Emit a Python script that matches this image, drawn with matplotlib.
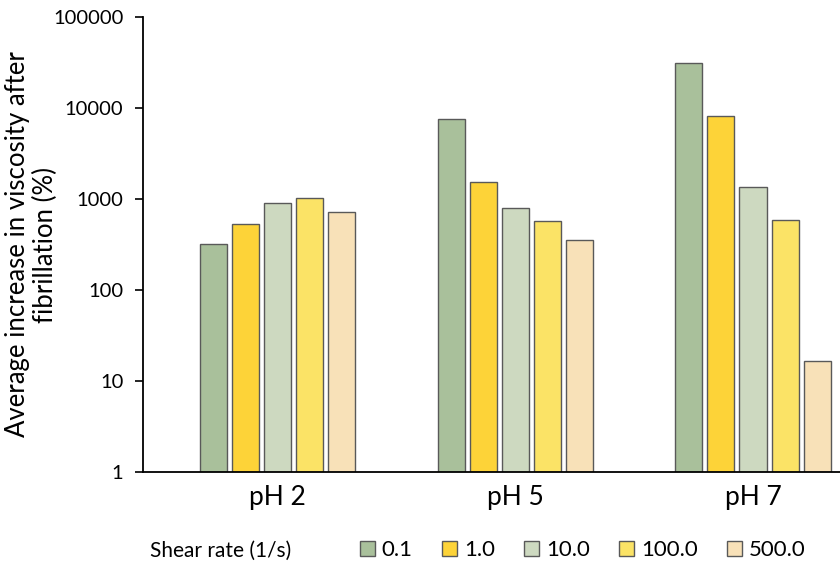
import matplotlib
matplotlib.use("Agg")
import matplotlib.pyplot as plt
import numpy as np
from matplotlib.ticker import FixedLocator, NullLocator

plt.rcParams['font.family'] = ['Lato', 'DejaVu Sans']

groups = ['pH 2', 'pH 5', 'pH 7']
rates = ['0.1', '1.0', '10.0', '100.0', '500.0']
v01 = [320, 7570, 31500]
v1 = [530, 1540, 8230]
v10 = [900, 800, 1365]
v100 = [1030, 573, 588]
v500 = [720, 354, 15.6]
series = [v01, v1, v10, v100, v500]
colors = ['#A9C09B', '#FDD338', '#CDD9C0', '#FBE366', '#F8E1B8']

fig = plt.figure(figsize=(8.4, 5.68), dpi=100)
ax = fig.add_axes([0.170, 0.169, 0.830, 0.801])

x = np.arange(len(groups))
pitch = 0.135
w = 0.114
for i, vals in enumerate(series):
    ax.bar(x + (i - 2) * pitch, vals, width=w, bottom=1, color=colors[i],
           edgecolor='#595959', linewidth=1.0, label=rates[i], zorder=2)

ax.set_yscale('log')
ax.set_ylim(1, 100000)
ax.set_xlim(-0.568, 2.366)
ax.yaxis.set_major_locator(FixedLocator([1, 10, 100, 1000, 10000, 100000]))
ax.yaxis.set_minor_locator(NullLocator())
ax.set_yticklabels(['1', '10', '100', '1000', '10000', '100000'])
ax.set_xticks(x)
ax.set_xticklabels(groups, fontsize=19)
ax.tick_params(axis='x', length=0, pad=9)
ax.tick_params(axis='y', length=6, width=1.2, labelsize=14.5, pad=8, direction='out')
for s in ['top', 'right']:
    ax.spines[s].set_visible(False)
ax.spines['left'].set_linewidth(1.3)
ax.spines['bottom'].set_linewidth(1.3)
ax.set_ylabel('Average increase in viscosity after\nfibrillation (%)', fontsize=18.5,
              linespacing=1.12, multialignment='center')
ax.yaxis.set_label_coords(-0.122, 0.5)

fig.text(0.178, 0.031, 'Shear rate (1/s)', fontsize=15, va='center', ha='left')
fig.legend(loc='center left', bbox_to_anchor=(0.428, 0.031), ncol=5, frameon=False,
           fontsize=16, handlelength=0.7, handleheight=0.7, handletextpad=0.3,
           columnspacing=1.3, borderaxespad=0, borderpad=0)

fig.savefig('out.png', dpi=100)
